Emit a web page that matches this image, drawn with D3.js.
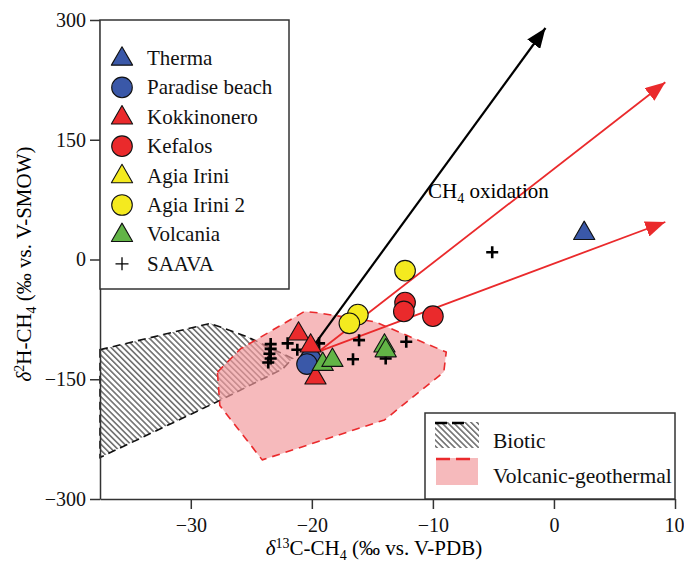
<!DOCTYPE html>
<html>
<head>
<meta charset="utf-8">
<script src="https://cdn.jsdelivr.net/npm/d3@7"></script>
<style>
  html, body { margin: 0; padding: 0; background: #fff; }
  svg { display: block; font-family: "Liberation Serif", "DejaVu Serif", serif; }
</style>
</head>
<body>
<svg id="chart" width="684" height="571"></svg>
<script>
// δ13C-CH4 (x) and δ2H-CH4 (y) values, ‰
const therma        = [[2.5, 34]];
const paradiseBeach = [[-20.1, -125], [-20.4, -131]];
const kokkinonero   = [[-21.1, -92], [-20.1, -107], [-19.7, -147]];
const kefalos       = [[-12.3, -54], [-12.4, -65], [-10.0, -71]];
const agiaIrini     = [];
const agiaIrini2    = [[-16.2, -69], [-16.9, -80], [-12.3, -14]];
const volcania      = [[-19.1, -130], [-18.3, -125], [-14.0, -107], [-13.9, -113]];
const saava = [
  [-5.1, 9], [-23.4, -106], [-23.4, -112], [-23.5, -118], [-23.4, -124], [-23.6, -129],
  [-22.0, -105], [-21.2, -113], [-19.4, -105], [-16.1, -101], [-16.6, -125],
  [-12.2, -103], [-13.9, -124]
];

// genetic fields (polygon vertices)
const bioticField = [
  [-37.5, -113], [-28.4, -80], [-25.3, -97], [-21.6, -124], [-22.4, -137],
  [-27.8, -178], [-37.5, -248]
];
const volcanicField = [
  [-27.8, -141], [-25.9, -112], [-20.6, -65], [-19.4, -67], [-14.8, -78],
  [-8.9, -116], [-9.1, -141], [-14.0, -201], [-24.1, -251], [-27.6, -183]
];

// oxidation trends
const oxidationArrows = [
  { from: [-19.8, -107], to: [-0.7, 290], kind: "black" },
  { from: [-19.4, -115], to: [9.2, 222], kind: "red" },
  { from: [-19.4, -115], to: [9.2, 47], kind: "red" }
];

const xTicks = [-30, -20, -10, 0, 10];
const yTicks = [-300, -150, 0, 150, 300];

const legendNames = ["Therma", "Paradise beach", "Kokkinonero", "Kefalos",
                     "Agia Irini", "Agia Irini 2", "Volcania", "SAAVA"];
const fieldNames = ["Biotic", "Volcanic-geothermal"];

const colors = { blue: "#3a58a8", red: "#ea2a2c", yellow: "#f4ea1f", green: "#62b446" };
const seriesDefs = [
  { name: "Therma",         data: therma,        shape: "tri",    color: colors.blue },
  { name: "Paradise beach", data: paradiseBeach, shape: "circle", color: colors.blue },
  { name: "Kokkinonero",    data: kokkinonero,   shape: "tri",    color: colors.red },
  { name: "Kefalos",        data: kefalos,       shape: "circle", color: colors.red },
  { name: "Agia Irini",     data: agiaIrini,     shape: "tri",    color: colors.yellow },
  { name: "Agia Irini 2",   data: agiaIrini2,    shape: "circle", color: colors.yellow },
  { name: "Volcania",       data: volcania,      shape: "tri",    color: colors.green },
  { name: "SAAVA",          data: saava,         shape: "plus",   color: "#000" }
];

const svg = d3.select("#chart");
const margin = { left: 100, right: 9, top: 20, bottom: 72 };
const W = 684, H = 571;

const x = d3.scaleLinear().domain([-37.5, 10]).range([margin.left, W - margin.right]);
const y = d3.scaleLinear().domain([-300, 300]).range([H - margin.bottom, margin.top]);

// hatch pattern for the biotic field
const defs = svg.append("defs");
defs.append("pattern")
  .attr("id", "hatch")
  .attr("patternUnits", "userSpaceOnUse")
  .attr("width", 4.2).attr("height", 4.2)
  .attr("patternTransform", "rotate(-45)")
  .append("rect")
  .attr("x", 0).attr("y", 0).attr("width", 1.6).attr("height", 4.2)
  .attr("fill", "#707070");

// arrowheads
[["head-black", "#000"], ["head-red", colors.red]].forEach(([id, c]) => {
  defs.append("marker")
    .attr("id", id)
    .attr("markerUnits", "userSpaceOnUse")
    .attr("viewBox", "0 -8 20 16")
    .attr("refX", 20).attr("refY", 0)
    .attr("markerWidth", 20).attr("markerHeight", 16)
    .attr("orient", "auto")
    .append("path")
    .attr("d", "M0,-8L20,0L0,8Z")
    .attr("fill", c);
});

const line = d3.line().x(d => x(d[0])).y(d => y(d[1])).curve(d3.curveLinearClosed);

// biotic field
svg.append("path")
  .attr("d", line(bioticField))
  .attr("fill", "url(#hatch)")
  .attr("stroke", "#111")
  .attr("stroke-width", 1.6)
  .attr("stroke-dasharray", "8,5");

// volcanic-geothermal field
svg.append("path")
  .attr("d", line(volcanicField))
  .attr("fill", "#f29a9c")
  .attr("fill-opacity", 0.68)
  .attr("stroke", colors.red)
  .attr("stroke-width", 1.6)
  .attr("stroke-dasharray", "8,6")
  .attr("stroke-linejoin", "round");

// oxidation arrows
svg.append("g").selectAll("line")
  .data(oxidationArrows)
  .join("line")
  .attr("x1", d => x(d.from[0])).attr("y1", d => y(d.from[1]))
  .attr("x2", d => x(d.to[0])).attr("y2", d => y(d.to[1]))
  .attr("stroke", d => d.kind === "black" ? "#000" : colors.red)
  .attr("stroke-width", d => d.kind === "black" ? 2.2 : 1.8)
  .attr("marker-end", d => d.kind === "black" ? "url(#head-black)" : "url(#head-red)");

// label of the oxidation trend
const oxLabel = svg.append("text")
  .attr("x", 428).attr("y", 198)
  .attr("font-size", 21);
oxLabel.append("tspan").text("CH");
oxLabel.append("tspan").attr("font-size", 14).attr("dy", 5).text("4");
oxLabel.append("tspan").attr("dy", -5).text(" oxidation");

// marker shapes
const triPath = d3.symbol().type(d3.symbolTriangle).size(195);
function drawShape(g, shape, color, cx, cy, plusSize, plusWidth) {
  if (shape === "circle") {
    g.append("circle").attr("cx", cx).attr("cy", cy).attr("r", 10.3)
      .attr("fill", color).attr("stroke", "#111").attr("stroke-width", 1.1);
  } else if (shape === "tri") {
    g.append("path").attr("d", triPath())
      .attr("transform", `translate(${cx},${cy + 1})`)
      .attr("fill", color).attr("stroke", "#111").attr("stroke-width", 1.1)
      .attr("stroke-linejoin", "round");
  } else {
    const s = plusSize;
    g.append("path")
      .attr("d", `M${cx - s},${cy}H${cx + s}M${cx},${cy - s}V${cy + s}`)
      .attr("stroke", color).attr("stroke-width", plusWidth).attr("fill", "none");
  }
}

const pts = svg.append("g");
// SAAVA crosses underneath the other samples
const order = ["SAAVA", "Paradise beach", "Kokkinonero", "Volcania", "Kefalos",
               "Agia Irini", "Agia Irini 2", "Therma"];
order.forEach(name => {
  const s = seriesDefs.find(d => d.name === name);
  s.data.forEach(p => drawShape(pts, s.shape, s.color, x(p[0]), y(p[1]), 6, 2.6));
});

// axes
const fmt = d => d3.format("")(d).replace("-", "\u2212");
const xAxis = svg.append("g")
  .attr("transform", `translate(0,${y(-300)})`)
  .call(d3.axisBottom(x).tickValues(xTicks).tickSize(10).tickSizeOuter(0).tickPadding(9).tickFormat(fmt));
const yAxis = svg.append("g")
  .attr("transform", `translate(${x(-37.5)},0)`)
  .call(d3.axisLeft(y).tickValues(yTicks).tickSize(10).tickSizeOuter(0).tickPadding(4).tickFormat(fmt));
[xAxis, yAxis].forEach(a => {
  a.selectAll("path, line").attr("stroke", "#333").attr("stroke-width", 1.5);
  a.selectAll("text").attr("font-family", "Liberation Serif, serif")
    .attr("font-size", 20).attr("fill", "#111");
});
// the last x label sits against the right edge of the canvas
xAxis.selectAll(".tick text").filter(d => d === xTicks[xTicks.length - 1])
  .attr("text-anchor", "end").attr("x", 9);

// axis titles
const xt = svg.append("text")
  .attr("x", 374).attr("y", 555).attr("text-anchor", "middle").attr("font-size", 21);
xt.append("tspan").attr("font-style", "italic").text("δ");
xt.append("tspan").attr("font-size", 14).attr("dy", -7).text("13");
xt.append("tspan").attr("dy", 7).text("C-CH");
xt.append("tspan").attr("font-size", 14).attr("dy", 5).text("4");
xt.append("tspan").attr("dy", -5).text(" (‰ vs. V-PDB)");

const yt = svg.append("text")
  .attr("transform", "translate(31,264) rotate(-90)")
  .attr("text-anchor", "middle").attr("font-size", 21);
yt.append("tspan").attr("font-style", "italic").text("δ");
yt.append("tspan").attr("font-size", 14).attr("dy", -7).text("2");
yt.append("tspan").attr("dy", 7).text("H-CH");
yt.append("tspan").attr("font-size", 14).attr("dy", 5).text("4");
yt.append("tspan").attr("dy", -5).text(" (‰ vs. V-SMOW)");

// sample legend
const lg = svg.append("g");
lg.append("rect")
  .attr("x", x(-37.5)).attr("y", y(300))
  .attr("width", 189).attr("height", 269)
  .attr("fill", "#fff").attr("stroke", "#333").attr("stroke-width", 1.5);
legendNames.forEach((name, i) => {
  const s = seriesDefs.find(d => d.name === name);
  const cy = 58 + i * 29.4;
  drawShape(lg, s.shape, s.color, 122, cy, 6.5, 1.3);
  lg.append("text").attr("x", 147).attr("y", cy + 7).attr("font-size", 21).attr("fill", "#111").text(name);
});

// field legend
const fg = svg.append("g");
fg.append("rect")
  .attr("x", 425).attr("y", 413)
  .attr("width", x(10) - 425).attr("height", y(-300) - 413)
  .attr("fill", "#fff").attr("stroke", "#333").attr("stroke-width", 1.5);
fg.append("rect").attr("x", 435).attr("y", 422).attr("width", 44).attr("height", 26)
  .attr("fill", "url(#hatch)");
fg.append("line").attr("x1", 435).attr("x2", 465).attr("y1", 423).attr("y2", 423)
  .attr("stroke", "#000").attr("stroke-width", 2.5).attr("stroke-dasharray", "12,5");
fg.append("rect").attr("x", 436).attr("y", 458).attr("width", 42).attr("height", 27)
  .attr("fill", "#f29a9c").attr("fill-opacity", 0.68);
fg.append("line").attr("x1", 436).attr("x2", 470).attr("y1", 459).attr("y2", 459)
  .attr("stroke", colors.red).attr("stroke-width", 2.5).attr("stroke-dasharray", "14,6");
fieldNames.forEach((name, i) => {
  fg.append("text").attr("x", 493).attr("y", 448 + i * 35).attr("font-size", 21.5)
    .attr("fill", "#111").text(name);
});
</script>
</body>
</html>
